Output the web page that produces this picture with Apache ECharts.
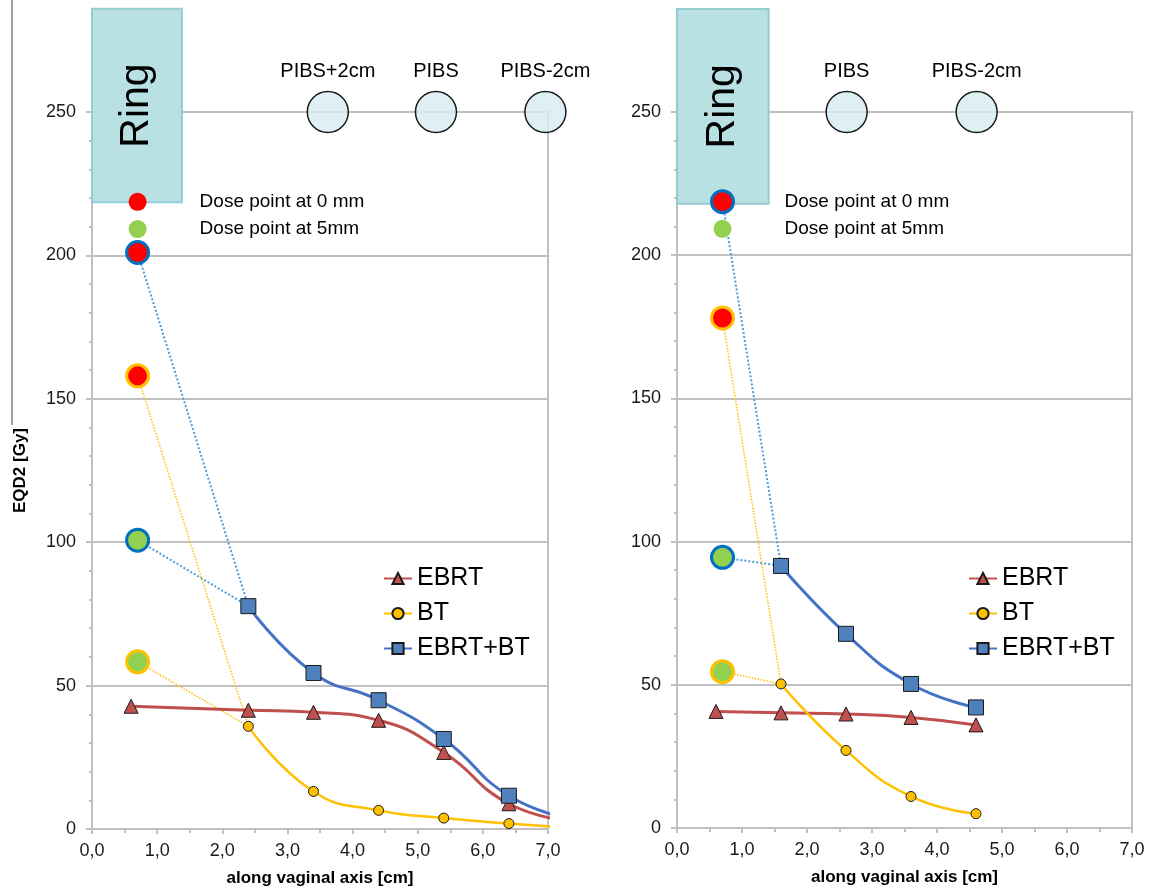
<!DOCTYPE html>
<html>
<head>
<meta charset="utf-8">
<script src="https://cdn.jsdelivr.net/npm/echarts@6.0.0/dist/echarts.min.js"></script>
<style>
  html, body { margin: 0; padding: 0; background: #fff; }
  #chart { width: 1151px; height: 892px; }
</style>
</head>
<body>
<div id="chart"></div>
<script>
// left panel: positions along the vaginal axis [cm] and EQD2 [Gy]
const xLeft = [0.6, 2.4, 3.4, 4.4, 5.4, 6.4, 7.4];
const ebrtLeft = [42.8, 41.4, 40.7, 37.9, 26.7, 8.8, 2.6];
const btLeft = [null, 35.8, 13.1, 6.5, 3.8, 1.9, 0.4];
const sumLeft = [null, 77.7, 54.4, 44.9, 31.4, 11.6, 3.2];

// right panel
const xRight = [0.6, 1.6, 2.6, 3.6, 4.6];
const ebrtRight = [40.7, 40.2, 39.8, 38.6, 36.0];
const btRight = [null, 50.3, 27.1, 11.0, 5.0];
const sumRight = [null, 91.5, 67.8, 50.3, 42.1];

// dose points at the ring, [EBRT+BT, BT]
const doseX = 0.7;
const dose0Left = [201, 158];
const dose5Left = [100.7, 58.3];
const dose0Right = [218.7, 178.1];
const dose5Right = [94.5, 54.6];

// legend dots for the dose points
const doseLegendNames = ['Dose point at 0 mm', 'Dose point at 5mm'];
const doseLegendY = [218.7, 209.2];

// ring box [x0, x1, y0, y1] and PIBS markers
const ringLeft = [0, 1.38, 218.5, 286];
const ringRight = [0, 1.41, 218, 286];
const pibsNamesLeft = ['PIBS+2cm', 'PIBS', 'PIBS-2cm'];
const pibsXLeft = [3.62, 5.28, 6.96];
const pibsNamesRight = ['PIBS', 'PIBS-2cm'];
const pibsXRight = [2.61, 4.61];
const pibsY = 250;

const FONT = '"Liberation Sans", Arial, sans-serif';
const GRAY = '#c0c0c0';

function renderRing(params, api) {
    let p0 = api.coord([api.value(0), api.value(3)]);
    let p1 = api.coord([api.value(1), api.value(2)]);
    return {
        type: 'group',
        children: [{
            type: 'rect',
            shape: { x: p0[0], y: p0[1], width: p1[0] - p0[0], height: p1[1] - p0[1] },
            style: { fill: '#b9e1e4', stroke: '#93cdd2', lineWidth: 2 }
        }, {
            type: 'text',
            x: (p0[0] + p1[0]) / 2,
            y: (p0[1] + p1[1]) / 2,
            rotation: Math.PI / 2,
            style: {
                text: 'Ring', fontSize: 41, fontFamily: FONT, fill: '#000',
                align: 'center', verticalAlign: 'middle'
            }
        }]
    };
}

function panelSeries(i, xs, ebrt, bt, sum, dose0, dose5, ring, pibsNames, pibsX) {
    let pts = ys => xs.map((x, k) => [x, ys[k]]).filter(d => d[1] != null);
    let firstIdx = bt.findIndex(v => v != null);
    return [
        {
            type: 'custom', name: 'Ring', xAxisIndex: i, yAxisIndex: i, clip: false, z: 3,
            renderItem: renderRing, encode: { x: [0, 1], y: [2, 3] },
            data: [ring]
        },
        {
            type: 'scatter', name: 'PIBS', xAxisIndex: i, yAxisIndex: i, clip: false, z: 3,
            symbolSize: 41,
            itemStyle: { color: 'rgba(214,236,240,0.8)', borderColor: '#1a1a1a', borderWidth: 1.5, opacity: 1 },
            label: {
                show: true, position: 'top', distance: 9, formatter: '{b}',
                fontSize: 20, fontFamily: FONT, color: '#000'
            },
            data: pibsX.map((x, k) => ({ name: pibsNames[k], value: [x, pibsY] }))
        },
        {
            type: 'line', name: 'dot sum', xAxisIndex: i, yAxisIndex: i, z: 4,
            showSymbol: false, lineStyle: { color: '#4a9be0', width: 2, type: 'dotted' },
            data: [[doseX, dose0[0]], [xs[firstIdx], sum[firstIdx]], [doseX, dose5[0]]]
        },
        {
            type: 'line', name: 'dot bt', xAxisIndex: i, yAxisIndex: i, z: 4,
            showSymbol: false, lineStyle: { color: '#ffc000', width: 1.5, type: 'dotted' },
            data: [[doseX, dose0[1]], [xs[firstIdx], bt[firstIdx]], [doseX, dose5[1]]]
        },
        {
            type: 'line', name: 'EBRT', xAxisIndex: i, yAxisIndex: i, z: 5, smooth: true,
            symbol: 'triangle', symbolSize: 14,
            lineStyle: { color: '#c0504d', width: 3 },
            itemStyle: { color: '#c0504d', borderColor: '#1a1a1a', borderWidth: 1 },
            data: pts(ebrt)
        },
        {
            type: 'line', name: 'BT', xAxisIndex: i, yAxisIndex: i, z: 5, smooth: true,
            symbol: 'circle', symbolSize: 10,
            lineStyle: { color: '#ffc000', width: 2.5 },
            itemStyle: { color: '#ffc000', borderColor: '#1a1a1a', borderWidth: 1 },
            data: pts(bt)
        },
        {
            type: 'line', name: 'EBRT+BT', xAxisIndex: i, yAxisIndex: i, z: 5, smooth: true,
            symbol: 'rect', symbolSize: 15,
            lineStyle: { color: '#4472c4', width: 3 },
            itemStyle: { color: '#4f81bd', borderColor: '#1a1a1a', borderWidth: 1 },
            data: pts(sum)
        },
        {
            type: 'scatter', name: 'dose legend', xAxisIndex: i, yAxisIndex: i, clip: false, z: 6,
            symbolSize: 18,
            itemStyle: { opacity: 1 },
            label: {
                show: true, position: 'right', distance: 53, formatter: '{b}',
                fontSize: 19, fontFamily: FONT, color: '#000'
            },
            data: doseLegendY.map((y, k) => ({
                name: doseLegendNames[k], value: [doseX, y],
                itemStyle: { color: k === 0 ? '#ff0000' : '#92d050' }
            }))
        },
        {
            type: 'scatter', name: 'dose sum', xAxisIndex: i, yAxisIndex: i, z: 7,
            symbolSize: 22,
            itemStyle: { borderColor: '#0070c0', borderWidth: 3, opacity: 1 },
            data: [
                { value: [doseX, dose0[0]], itemStyle: { color: '#ff0000' } },
                { value: [doseX, dose5[0]], itemStyle: { color: '#92d050' } }
            ]
        },
        {
            type: 'scatter', name: 'dose bt', xAxisIndex: i, yAxisIndex: i, z: 7,
            symbolSize: 22,
            itemStyle: { borderColor: '#ffc000', borderWidth: 3, opacity: 1 },
            data: [
                { value: [doseX, dose0[1]], itemStyle: { color: '#ff0000' } },
                { value: [doseX, dose5[1]], itemStyle: { color: '#92d050' } }
            ]
        }
    ];
}

function xAxisFor(i) {
    return {
        type: 'value', gridIndex: i, min: 0, max: 7, interval: 1,
        name: 'along vaginal axis [cm]', nameLocation: 'middle', nameGap: 41,
        nameTextStyle: { fontSize: 17, fontWeight: 'bold', fontFamily: FONT, color: '#000' },
        axisLine: { lineStyle: { color: GRAY, width: 2 } },
        axisTick: { show: true, length: 5, lineStyle: { color: GRAY, width: 2 } },
        minorTick: { show: true, splitNumber: 2, length: 4, lineStyle: { color: GRAY, width: 2 } },
        splitLine: { show: false },
        axisLabel: {
            margin: 13, fontSize: 18, fontFamily: FONT, color: '#1a1a1a',
            formatter: v => v.toFixed(1).replace('.', ',')
        }
    };
}

function yAxisFor(i, withName) {
    return {
        type: 'value', gridIndex: i, min: 0, max: 250, interval: 50,
        name: withName ? 'EQD2 [Gy]' : '', nameLocation: 'middle', nameGap: 63,
        nameTextStyle: { fontSize: 17, fontWeight: 'bold', fontFamily: FONT, color: '#000' },
        axisLine: { show: true, lineStyle: { color: GRAY, width: 2 } },
        axisTick: { show: true, length: 6, lineStyle: { color: GRAY, width: 2 } },
        minorTick: { show: true, splitNumber: 5, length: 3, lineStyle: { color: GRAY, width: 2 } },
        splitLine: { show: true, lineStyle: { color: GRAY, width: 2 } },
        axisLabel: { margin: 16, fontSize: 18, fontFamily: FONT, color: '#1a1a1a' }
    };
}

function legendAt(left) {
    return {
        left: left, top: 561, orient: 'vertical', selectedMode: false,
        data: ['EBRT', 'BT', 'EBRT+BT'],
        itemWidth: 28, itemHeight: 14, itemGap: 10,
        textStyle: { fontSize: 25, fontFamily: FONT, color: '#000' }
    };
}

let myChart = echarts.init(document.getElementById('chart'), null, { renderer: 'canvas' });
let option = {
    animation: false,
    backgroundColor: '#fff',
    grid: [
        { left: 92, top: 112, width: 456, height: 718, show: true, borderColor: GRAY, borderWidth: 2, backgroundColor: 'transparent' },
        { left: 677, top: 112, width: 455, height: 716, show: true, borderColor: GRAY, borderWidth: 2, backgroundColor: 'transparent' }
    ],
    xAxis: [xAxisFor(0), xAxisFor(1)],
    yAxis: [yAxisFor(0, true), yAxisFor(1, false)],
    legend: [legendAt(378), legendAt(963)],
    graphic: [{
        type: 'line', shape: { x1: 12, y1: 0, x2: 12, y2: 425 },
        style: { stroke: '#808080', lineWidth: 1.5 }
    }],
    series: [].concat(
        panelSeries(0, xLeft, ebrtLeft, btLeft, sumLeft, dose0Left, dose5Left, ringLeft, pibsNamesLeft, pibsXLeft),
        panelSeries(1, xRight, ebrtRight, btRight, sumRight, dose0Right, dose5Right, ringRight, pibsNamesRight, pibsXRight)
    )
};
myChart.setOption(option);
</script>
</body>
</html>
